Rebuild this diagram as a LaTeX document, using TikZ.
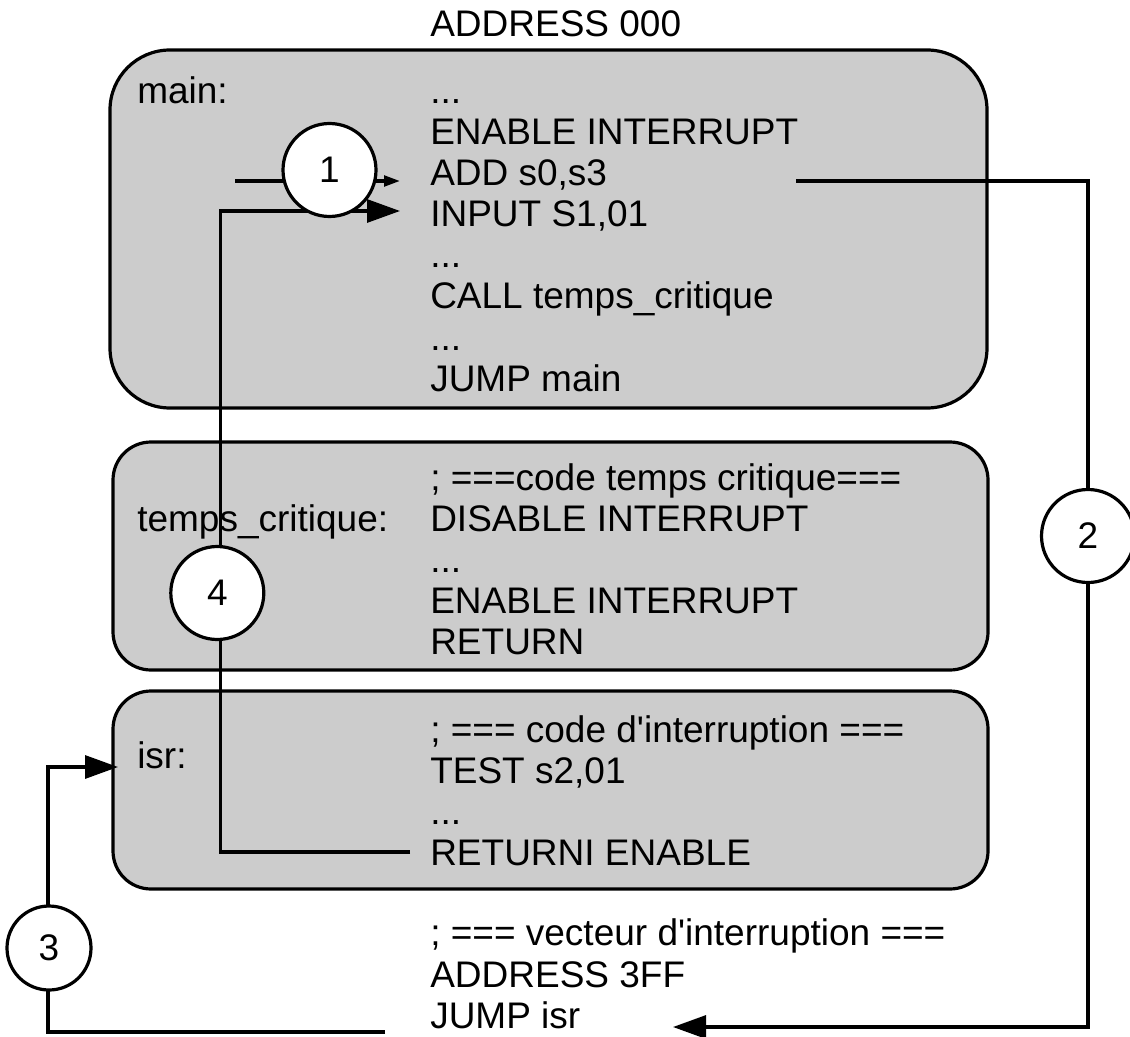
\documentclass[tikz,border=0pt]{standalone}
\usepackage{fontspec}
\newfontfamily\lsans{Liberation Sans}
\usetikzlibrary{arrows.meta}
\definecolor{boxgray}{HTML}{CCCCCC}
\begin{document}
\begin{tikzpicture}[x=0.75pt,y=-0.75pt,
  txt/.style={font=\lsans\fontsize{27.75}{30}\selectfont, inner sep=0pt, anchor=base west},
  block/.style={draw, fill=boxgray, line width=2.4pt, inner sep=0pt},
  conn/.style={line width=2.4pt},
  bigtip/.style={-{Triangle[length=24.75pt,width=17.25pt]}},
  smalltip/.style={-{Triangle[length=12pt,width=8pt]}},
  circ/.style={circle, draw, fill=white, line width=2.4pt, minimum size=69.75pt, inner sep=0pt, font=\lsans\fontsize{27.75}{30}\selectfont}
]
\useasboundingbox (0,0) rectangle (1130,1037);

% blocks
\node[block, rounded corners=45pt, minimum width=657.75pt, minimum height=268.5pt] (mainbox) at (548.5,229) {};
\node[block, rounded corners=28.5pt, minimum width=656.25pt, minimum height=171pt] (tcbox) at (550.5,556) {};
\node[block, rounded corners=28.5pt, minimum width=656.25pt, minimum height=148.5pt] (isrbox) at (550.5,790) {};

% texts
\node[txt] (addr0) at (430,37) {ADDRESS 000};

\node[txt] (lmain) at (137,104) {main:};
\node[txt] (m1) at (430,104) {...};
\node[txt] (m2) at (430,145) {ENABLE INTERRUPT};
\node[txt] (m3) at (430,186) {ADD s0,s3};
\node[txt] (m4) at (430,227) {INPUT S1,01};
\node[txt] (m5) at (430,268) {...};
\node[txt] (m6) at (430,309) {CALL temps\_critique};
\node[txt] (m7) at (430,350) {...};
\node[txt] (m8) at (430,391) {JUMP main};

\node[txt] (ltc) at (137,531) {temps\_critique:};
\node[txt] (t1) at (430,490) {; ===code temps critique===};
\node[txt] (t2) at (430,531) {DISABLE INTERRUPT};
\node[txt] (t3) at (430,572) {...};
\node[txt] (t4) at (430,613) {ENABLE INTERRUPT};
\node[txt] (t5) at (430,654) {RETURN};

\node[txt] (lisr) at (137,768) {isr:};
\node[txt] (i1) at (430,742) {; === code d'interruption ===};
\node[txt] (i2) at (430,783) {TEST s2,01};
\node[txt] (i3) at (430,824) {...};
\node[txt] (i4) at (430,865) {RETURNI ENABLE};

\node[txt] (v1) at (430,945) {; === vecteur d'interruption ===};
\node[txt] (v2) at (430,987) {ADDRESS 3FF};
\node[txt] (v3) at (430,1028) {JUMP isr};

% connector end points
\coordinate (s1) at (235,181);
\coordinate (e1) at (400,181);
\coordinate (s4) at (410,852);
\coordinate (e4) at (400,211);
\coordinate (s2) at (796,181);
\coordinate (e2) at (673,1027);
\coordinate (s3) at (385,1032);
\coordinate (e3) at (118,767);

% connectors
\draw[conn, smalltip] (s1) -- (e1);
\draw[conn, bigtip] (s4) -- (220.7,852) -- (220.7,211) -- (e4);
\draw[conn, bigtip] (s2) -- (1088,181) -- (1088,1027) -- (e2);
\draw[conn, bigtip] (s3) -- (48,1032) -- (48,767) -- (e3);

% numbered circles
\node[circ] (c1) at (329.5,170) {1};
\node[circ] (c2) at (1088,536) {2};
\node[circ, minimum size=63pt] (c3) at (49,948) {3};
\node[circ] (c4) at (217.3,593) {4};
\end{tikzpicture}
\end{document}
